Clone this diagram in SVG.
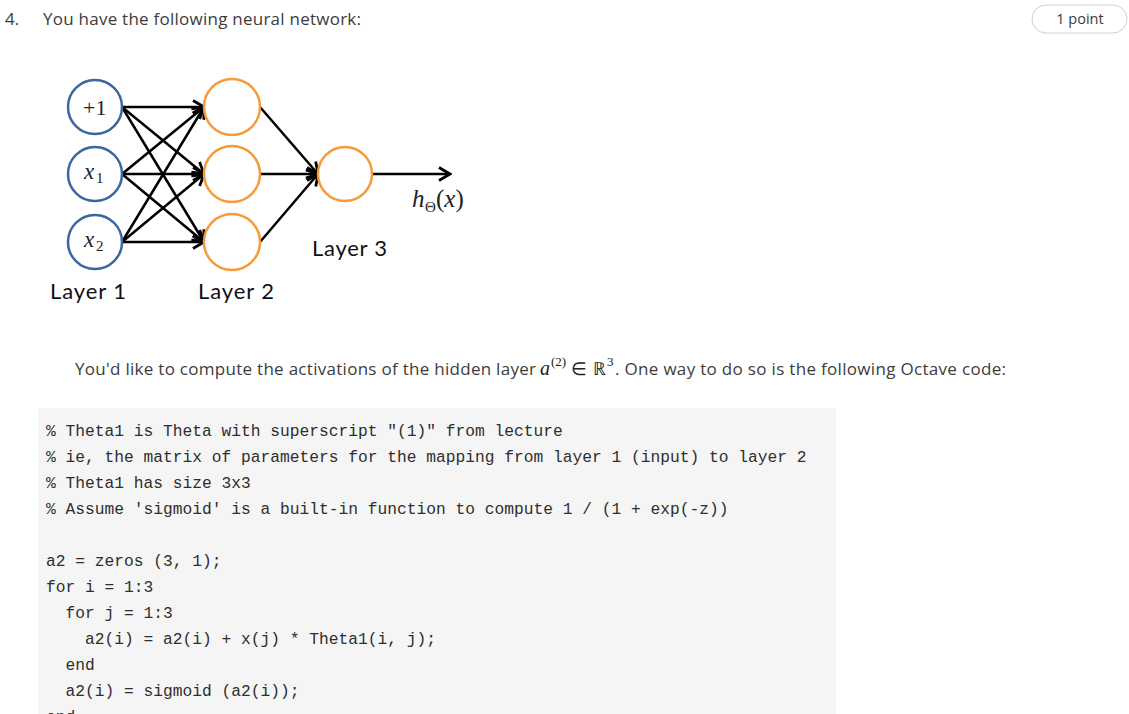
<svg xmlns="http://www.w3.org/2000/svg" width="1129" height="714" viewBox="0 0 1129 714">
<style>
.ui{font-family:"Open Sans","Liberation Sans",sans-serif;fill:#3c3c3c}
.lbl{font-family:Lato,"Liberation Sans",sans-serif;font-size:22px;fill:#111}
.math{font-family:"Liberation Serif",serif;fill:#222}
.code{font-family:"Liberation Mono",monospace;font-size:16.25px;fill:#2e2e2e;white-space:pre}
.in{fill:#fff;stroke:#3b67a0;stroke-width:2.5}
.hid{fill:#fff;stroke:#f79a3a;stroke-width:2.5}
.edge{stroke:#000;stroke-width:2.5;fill:none;marker-end:url(#arr)}
</style>
<defs>
<marker id="arr" markerUnits="userSpaceOnUse" markerWidth="16" markerHeight="16" viewBox="0 0 16 16" refX="14" refY="8" orient="auto">
<path d="M3,1.5 L14,8 L3,14.5" fill="none" stroke="#000" stroke-width="2.8"/>
</marker>
</defs>
<rect width="1129" height="714" fill="#fff"/>
<text class="ui" x="5" y="25" font-size="17">4.</text>
<text class="ui" x="43" y="25" font-size="17" textLength="318">You have the following neural network:</text>
<g id="points">
<rect x="1032" y="5" width="95" height="28" rx="14" fill="#fff" stroke="#d0d0d0" stroke-width="1"/>
<text class="ui" x="1080" y="24" font-size="14.5" text-anchor="middle" fill="#555">1 point</text>
</g>
<g id="connectors">
<line class="edge" x1="122" y1="107" x2="204" y2="107"/>
<line class="edge" x1="122" y1="107" x2="204" y2="174"/>
<line class="edge" x1="122" y1="107" x2="204" y2="242"/>
<line class="edge" x1="122" y1="174" x2="204" y2="107"/>
<line class="edge" x1="122" y1="174" x2="204" y2="174"/>
<line class="edge" x1="122" y1="174" x2="204" y2="242"/>
<line class="edge" x1="122" y1="242" x2="204" y2="107"/>
<line class="edge" x1="122" y1="242" x2="204" y2="174"/>
<line class="edge" x1="122" y1="242" x2="204" y2="242"/>
<line class="edge" x1="260" y1="107" x2="318" y2="174"/>
<line class="edge" x1="260" y1="174" x2="318" y2="174"/>
<line class="edge" x1="260" y1="242" x2="318" y2="174"/>
<line class="edge" x1="373" y1="174" x2="450" y2="174"/>
</g>
<g id="in-bias"><circle class="in" cx="95" cy="107" r="27"/><text class="math" x="83" y="115" font-size="22">+1</text></g>
<g id="in-x1"><circle class="in" cx="95" cy="174" r="27"/><text class="math" x="84" y="179" font-size="23" font-style="italic">x</text><text class="math" x="96" y="183" font-size="15">1</text></g>
<g id="in-x2"><circle class="in" cx="95" cy="242" r="27"/><text class="math" x="84" y="247" font-size="23" font-style="italic">x</text><text class="math" x="96" y="251" font-size="15">2</text></g>
<g id="hid-1"><circle class="hid" cx="232" cy="107" r="28"/></g>
<g id="hid-2"><circle class="hid" cx="232" cy="174" r="28"/></g>
<g id="hid-3"><circle class="hid" cx="232" cy="242" r="28"/></g>
<g id="out"><circle class="hid" cx="345" cy="174" r="27"/></g>
<g id="h-label"><text class="math" x="412" y="207" font-size="25" font-style="italic">h</text><text class="math" x="425" y="212" font-size="15">Θ</text><text class="math" x="436" y="207" font-size="25">(<tspan font-style="italic">x</tspan>)</text></g>
<text class="lbl" x="312" y="256" textLength="75">Layer 3</text>
<text class="lbl" x="50" y="299" textLength="76">Layer 1</text>
<text class="lbl" x="198" y="299" textLength="76">Layer 2</text>
<text class="ui" x="75" y="375" font-size="17" textLength="461">You'd like to compute the activations of the hidden layer</text>
<text class="math" x="540" y="375" font-size="20" font-style="italic">a</text>
<text class="math" x="551" y="366" font-size="13">(2)</text>
<text class="math" x="571" y="375" font-size="18">∈</text>
<text class="math" x="593" y="375" font-size="18" font-family="'DejaVu Serif',serif">ℝ</text>
<text class="math" x="607" y="366" font-size="13">3</text>
<text class="ui" x="615" y="375" font-size="17" textLength="391">. One way to do so is the following Octave code:</text>
<g id="code">
<rect x="38" y="408" width="798" height="310" fill="#f5f5f5"/>
<text class="code" x="46" y="436">% Theta1 is Theta with superscript "(1)" from lecture</text>
<text class="code" x="46" y="462">% ie, the matrix of parameters for the mapping from layer 1 (input) to layer 2</text>
<text class="code" x="46" y="488">% Theta1 has size 3x3</text>
<text class="code" x="46" y="514">% Assume 'sigmoid' is a built-in function to compute 1 / (1 + exp(-z))</text>
<text class="code" x="46" y="566">a2 = zeros (3, 1);</text>
<text class="code" x="46" y="592">for i = 1:3</text>
<text class="code" x="46" y="618">  for j = 1:3</text>
<text class="code" x="46" y="644">    a2(i) = a2(i) + x(j) * Theta1(i, j);</text>
<text class="code" x="46" y="670">  end</text>
<text class="code" x="46" y="696">  a2(i) = sigmoid (a2(i));</text>
<text class="code" x="46" y="722">end</text>
</g>
</svg>
